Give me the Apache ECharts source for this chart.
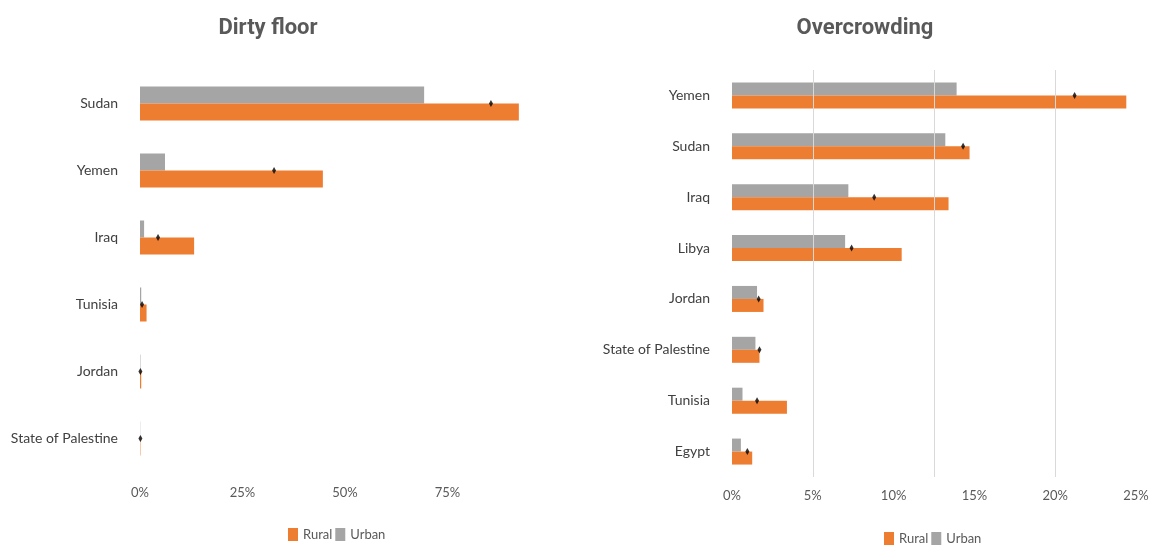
<!DOCTYPE html>
<html>
<head>
<meta charset="utf-8">
<script src="https://cdn.jsdelivr.net/npm/echarts@6/dist/echarts.min.js"></script>
<style>
  html, body { margin: 0; padding: 0; background: #fff; }
  #main { width: 1152px; height: 545px; }
</style>
</head>
<body>
<div id="main"></div>
<script>
  // Dirty floor (%)
  var floorCountries = ['Sudan', 'Yemen', 'Iraq', 'Tunisia', 'Jordan', 'State of Palestine'];
  var floorRural = [92.4, 44.6, 13.2, 1.6, 0.3, 0.1];
  var floorUrban = [69.3, 6.1, 1.0, 0.3, 0.1, 0.05];
  var floorTotal = [85.6, 32.7, 4.4, 0.5, 0.1, 0.1];

  // Overcrowding (%)
  var crowdCountries = ['Yemen', 'Sudan', 'Iraq', 'Libya', 'Jordan', 'State of Palestine', 'Tunisia', 'Egypt'];
  var crowdRural = [24.4, 14.7, 13.4, 10.5, 1.95, 1.7, 3.4, 1.25];
  var crowdUrban = [13.9, 13.2, 7.2, 7.0, 1.55, 1.45, 0.65, 0.55];
  var crowdTotal = [21.2, 14.3, 8.8, 7.4, 1.65, 1.7, 1.55, 0.95];
  var crowdGridLines = [5, 12.5, 20];

  var orange = '#ED7D31';
  var grey = '#A5A5A5';
  var font = 'Lato';

  var chart = echarts.init(document.getElementById('main'));

  function catAxis(idx, data) {
    return {
      type: 'category',
      gridIndex: idx,
      data: data,
      inverse: true,
      axisLine: { show: false },
      axisTick: { show: false },
      axisLabel: { margin: 22, color: '#404040', fontSize: 14, fontFamily: font }
    };
  }

  function pair(arrA, arrB) {
    return arrA.map(function (v, i) { return [v, arrB[i]]; });
  }

  var option = {
    animation: false,
    graphic: [
      { type: 'text', x: 268, y: 28, style: { text: 'Dirty floor', fill: '#595959', font: 'bold 22px Roboto', textAlign: 'center', textVerticalAlign: 'middle' } },
      { type: 'text', x: 865, y: 28, style: { text: 'Overcrowding', fill: '#595959', font: 'bold 22px Roboto', textAlign: 'center', textVerticalAlign: 'middle' } }
    ],
    legend: [
      {
        left: 288, top: 528, padding: 0, itemGap: 3, itemWidth: 10, itemHeight: 13,
        icon: 'rect', data: ['Rural', 'Urban'],
        textStyle: { color: '#595959', fontSize: 13, fontFamily: font }
      },
      {
        left: 884, top: 532, padding: 0, itemGap: 3, itemWidth: 10, itemHeight: 13,
        icon: 'rect', data: ['Rural', 'Urban'],
        textStyle: { color: '#595959', fontSize: 13, fontFamily: font }
      }
    ],
    grid: [
      { left: 140, top: 70, width: 410, height: 402 },
      { left: 732, top: 70, width: 404, height: 407 }
    ],
    xAxis: [
      {
        type: 'value', gridIndex: 0, min: 0, max: 100, interval: 25,
        axisLine: { show: false }, axisTick: { show: false }, splitLine: { show: false },
        axisLabel: {
          margin: 14, color: '#595959', fontSize: 13, fontFamily: font,
          formatter: function (v) { return v === 100 ? '' : v + '%'; }
        }
      },
      {
        type: 'value', gridIndex: 1, min: 0, max: 25, interval: 5,
        axisLine: { show: false }, axisTick: { show: false }, splitLine: { show: false },
        axisLabel: { margin: 12, color: '#595959', fontSize: 13, fontFamily: font, formatter: '{value}%' }
      }
    ],
    yAxis: [catAxis(0, floorCountries), catAxis(1, crowdCountries)],
    series: [
      {
        name: 'Urban', type: 'bar', xAxisIndex: 0, yAxisIndex: 0,
        data: floorUrban, barWidth: 17, barGap: '0%', itemStyle: { color: grey }
      },
      {
        name: 'Rural', type: 'bar', xAxisIndex: 0, yAxisIndex: 0,
        data: floorRural, barWidth: 17, barGap: '0%', itemStyle: { color: orange }
      },
      {
        name: 'Total', type: 'scatter', xAxisIndex: 0, yAxisIndex: 0, z: 5,
        data: pair(floorTotal, floorCountries), symbol: 'diamond', symbolSize: [4, 7],
        itemStyle: { color: '#000' }
      },
      {
        name: 'Urban', type: 'bar', xAxisIndex: 1, yAxisIndex: 1,
        data: crowdUrban, barWidth: 13, barGap: '0%', itemStyle: { color: grey },
        markLine: {
          silent: true, symbol: 'none', label: { show: false },
          lineStyle: { color: '#d9d9d9', type: 'solid', width: 1 },
          data: crowdGridLines.map(function (v) { return { xAxis: v }; })
        }
      },
      {
        name: 'Rural', type: 'bar', xAxisIndex: 1, yAxisIndex: 1,
        data: crowdRural, barWidth: 13, barGap: '0%', itemStyle: { color: orange }
      },
      {
        name: 'Total', type: 'scatter', xAxisIndex: 1, yAxisIndex: 1, z: 5,
        data: pair(crowdTotal, crowdCountries), symbol: 'diamond', symbolSize: [4, 7],
        itemStyle: { color: '#000' }
      }
    ]
  };

  chart.setOption(option);
</script>
</body>
</html>
